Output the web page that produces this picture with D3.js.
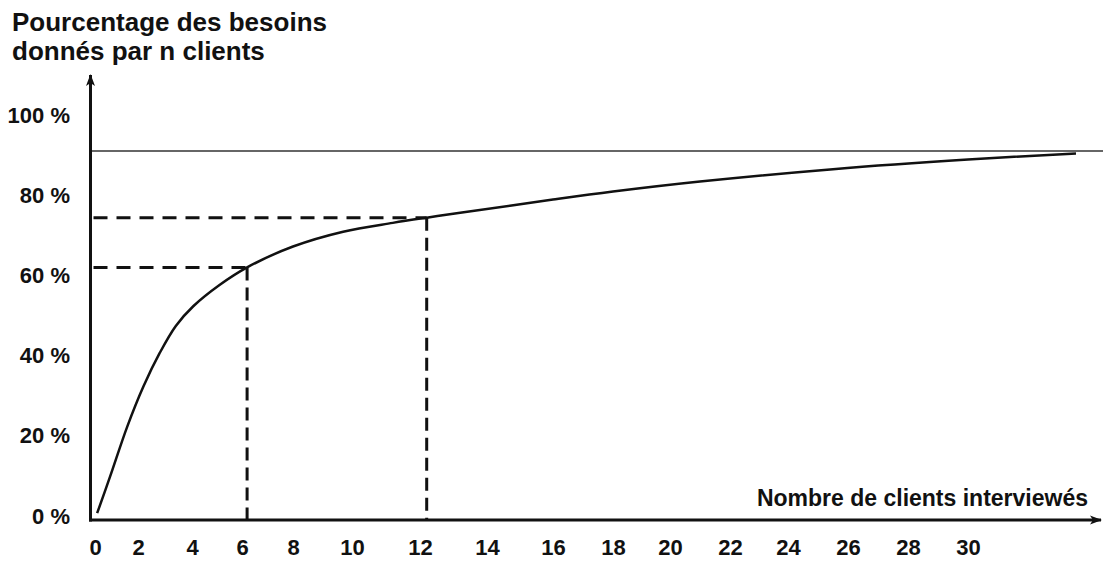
<!DOCTYPE html>
<html>
<head>
<meta charset="utf-8">
<script src="https://cdn.jsdelivr.net/npm/d3@7"></script>
<style>
    body { margin: 0; background: white; }
    text { font-family: "Liberation Sans", Arial, sans-serif; font-weight: bold; fill: #111; }
</style>
</head>
<body>
<div id="chart"></div>
<script>
// values
var xTicks = [0, 2, 4, 6, 8, 10, 12, 14, 16, 18, 20, 22, 24, 26, 28, 30];
var yTicks = [0, 20, 40, 60, 80, 100];
var clientsN = [0.1, 0.7, 1.5, 2.2, 2.8, 3.4, 4.05, 5.1, 6.2, 8, 9.7, 11.2, 12.2, 13.2, 16, 18, 21, 25.5, 30, 33.6];
var besoinsPct = [0.7, 9.8, 22.3, 32.3, 40.6, 47.4, 52.3, 57.6, 62, 67.2, 70.9, 73.1, 74.4, 75.6, 78.9, 80.9, 83.4, 86.5, 88.9, 90.4];
var guideN = [6.2, 12.2];
var guidePct = [62, 74.4];
var plateauPct = 91;
var titleLines = ["Pourcentage des besoins", "donnés par n clients"];
var xLabel = "Nombre de clients interviewés";

const
    width = 1103,
    height = 561,
    axisX = 90.5,
    axisY = 520;

var svg = d3
    .select("#chart")
    .append("svg")
    .attr("width", width)
    .attr("height", height)

// tick spacing in the drawing is not even, so the scale follows the printed ticks
var xscale = d3
    .scaleLinear()
    .domain(xTicks)
    .range([95, 138, 192, 242, 293, 352, 420, 487, 553, 613, 670, 730, 788, 848, 908, 968]);

// extrapolate past 30 with the last step
var xpos = function (n) {
    if (n > 30) return xscale(30) + (n - 30) * 30;
    return xscale(n);
};

var yscale = d3
    .scaleLinear()
    .domain([0, 100])
    .range([516, 115]);

var defs = svg.append("defs");
defs.append("marker")
    .attr("id", "arrow")
    .attr("viewBox", "0 0 12 10")
    .attr("refX", 11)
    .attr("refY", 5)
    .attr("markerWidth", 12)
    .attr("markerHeight", 10)
    .attr("markerUnits", "userSpaceOnUse")
    .attr("orient", "auto")
    .append("path")
    .attr("d", "M0,0.5 L12,5 L0,9.5 L3,5 Z")
    .style("fill", "#111");

// title
svg.selectAll(".title")
    .data(titleLines)
    .enter()
    .append("text")
    .attr("class", "title")
    .attr("x", 12)
    .attr("y", (d, i) => 31 + i * 29)
    .style("font-size", "26px")
    .text(d => d);

// plateau line
svg.append("line")
    .attr("x1", axisX)
    .attr("x2", width)
    .attr("y1", yscale(plateauPct))
    .attr("y2", yscale(plateauPct))
    .style("stroke", "#333")
    .style("stroke-width", 1.5);

// dashed guides
svg.selectAll(".guideH")
    .data(guideN)
    .enter()
    .append("line")
    .attr("class", "guideH")
    .attr("x1", axisX + 3)
    .attr("x2", d => xpos(d))
    .attr("y1", (d, i) => yscale(guidePct[i]))
    .attr("y2", (d, i) => yscale(guidePct[i]))
    .style("stroke", "#111")
    .style("stroke-width", 3)
    .style("stroke-dasharray", "14,9");

svg.selectAll(".guideV")
    .data(guideN)
    .enter()
    .append("line")
    .attr("class", "guideV")
    .attr("x1", d => xpos(d))
    .attr("x2", d => xpos(d))
    .attr("y1", (d, i) => yscale(guidePct[i]))
    .attr("y2", axisY)
    .style("stroke", "#111")
    .style("stroke-width", 3)
    .style("stroke-dasharray", "13,7");

// curve
var line = d3.line()
    .x(d => xpos(d[0]))
    .y(d => yscale(d[1]))
    .curve(d3.curveCatmullRom.alpha(0.5));

svg.append("path")
    .datum(clientsN.map((n, i) => [n, besoinsPct[i]]))
    .attr("d", line)
    .style("fill", "none")
    .style("stroke", "#111")
    .style("stroke-width", 2.5);

// axes
svg.append("line")
    .attr("x1", axisX)
    .attr("x2", axisX)
    .attr("y1", axisY + 1.5)
    .attr("y2", 75)
    .style("stroke", "#111")
    .style("stroke-width", 3)
    .attr("marker-end", "url(#arrow)");

svg.append("line")
    .attr("x1", axisX - 1.5)
    .attr("x2", 1101)
    .attr("y1", axisY)
    .attr("y2", axisY)
    .style("stroke", "#111")
    .style("stroke-width", 3)
    .attr("marker-end", "url(#arrow)");

var xaxis = svg
    .append("g")
    .attr("transform", `translate(0, ${axisY})`)
    .call(d3.axisBottom(xscale).tickValues(xTicks).tickSize(0).tickPadding(19))
    .style("font-size", "22px");
xaxis.select(".domain").remove();
xaxis.attr("font-family", null);

var yaxis = svg
    .append("g")
    .attr("transform", "translate(74, 0)")
    .call(d3.axisLeft(yscale).tickValues(yTicks).tickSize(0).tickPadding(4)
        .tickFormat(d => d + " %"))
    .style("font-size", "22px");
yaxis.select(".domain").remove();
yaxis.attr("font-family", null);

svg.append("text")
    .attr("x", 1088)
    .attr("y", 506)
    .style("font-size", "23px")
    .style("text-anchor", "end")
    .text(xLabel);
</script>
</body>
</html>
